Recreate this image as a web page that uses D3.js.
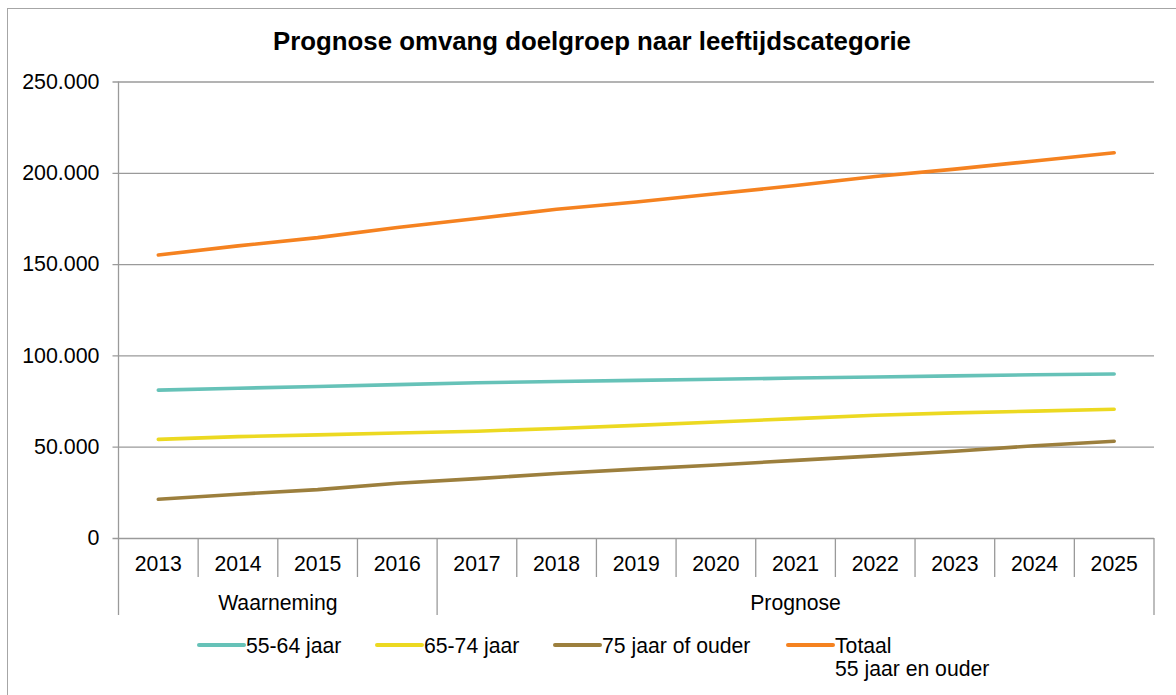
<!DOCTYPE html>
<html>
<head>
<meta charset="utf-8">
<script src="https://cdn.jsdelivr.net/npm/d3@7"></script>
<style>
  html, body { margin: 0; padding: 0; background: #fff; }
  svg { display: block; font-family: "Liberation Sans", Arial, sans-serif; }
</style>
</head>
<body>
<svg id="chart" width="1176" height="695"></svg>
<script>
// Years on the category axis
const years = ["2013","2014","2015","2016","2017","2018","2019","2020","2021","2022","2023","2024","2025"];
// Period grouping beneath the years
const periods = [
  { label: "Waarneming", from: "2013", to: "2016" },
  { label: "Prognose",   from: "2017", to: "2025" }
];
// Number of people per age category
const age5564  = [81000, 82000, 83000, 84000, 85000, 85700, 86300, 86900, 87600, 88200, 88800, 89400, 89800];
const age6574  = [54000, 55500, 56500, 57500, 58500, 60000, 61700, 63500, 65400, 67200, 68500, 69500, 70500];
const age75plus = [21200, 24000, 26500, 30000, 32500, 35300, 37700, 40000, 42500, 45000, 47500, 50500, 53000];
const total55plus = [155000, 160000, 164500, 170000, 175000, 180000, 184000, 188500, 193000, 198000, 202000, 206500, 211000];
// Value axis ticks
const yTicks = [0, 50000, 100000, 150000, 200000, 250000];

const seriesNames = ["55-64 jaar", "65-74 jaar", "75 jaar of ouder", "Totaal\n55 jaar en ouder"];
const seriesValues = [age5564, age6574, age75plus, total55plus];
const seriesColors = ["#66c2b8", "#ecd921", "#9c7f3d", "#f58220"];

const svg = d3.select("#chart");
const grid = "#9a9a9a";
const plot = { left: 118.5, right: 1154, top: 81.5, bottom: 538 };

// outer frame (right/bottom edges fall outside the view)
svg.append("rect")
  .attr("x", 7.5).attr("y", 8.5).attr("width", 1200).attr("height", 720)
  .attr("fill", "none").attr("stroke", "#a6a6a6").attr("stroke-width", 1);

const x = d3.scaleBand().domain(years).range([plot.left, plot.right]).paddingInner(0).paddingOuter(0);
const y = d3.scaleLinear().domain([0, 250000]).range([plot.bottom, plot.top]);

const fmt = v => v === 0 ? "0" : d3.format(",")(v).replace(/,/g, ".");

// title
svg.append("text")
  .attr("x", 592).attr("y", 50)
  .attr("text-anchor", "middle")
  .attr("font-size", 25.8).attr("font-weight", "bold").attr("fill", "#000")
  .text("Prognose omvang doelgroep naar leeftijdscategorie");

// horizontal gridlines + y axis
const yAxis = d3.axisLeft(y).tickValues(yTicks).tickFormat(fmt)
  .tickSize(-(plot.right - plot.left)).tickPadding(19);
const gy = svg.append("g").attr("transform", `translate(${plot.left},0)`).call(yAxis);
gy.select(".domain").remove();
gy.selectAll(".tick line").attr("stroke", grid).attr("stroke-width", 1.3).attr("x1", -6);
gy.selectAll(".tick text").attr("font-size", 21.4).attr("fill", "#000")
  .attr("font-family", "Liberation Sans, Arial, sans-serif");

// vertical value-axis line
svg.append("line").attr("x1", plot.left).attr("x2", plot.left).attr("y1", plot.top).attr("y2", plot.bottom)
  .attr("stroke", grid).attr("stroke-width", 1.3);

// category axis: year cells
const gx = svg.append("g");
const boundaries = years.map(d => x(d)).concat([plot.right]);
const groupEdges = new Set([x(periods[0].from), x(periods[1].from), plot.right]);
gx.selectAll("line.sep").data(boundaries).join("line")
  .attr("class", "sep")
  .attr("x1", d => d).attr("x2", d => d)
  .attr("y1", plot.bottom).attr("y2", d => groupEdges.has(d) ? 615 : 577)
  .attr("stroke", grid).attr("stroke-width", 1.3);
gx.selectAll("text.year").data(years).join("text")
  .attr("class", "year")
  .attr("x", d => x(d) + x.bandwidth() / 2).attr("y", 571)
  .attr("text-anchor", "middle").attr("font-size", 21.2).attr("fill", "#000")
  .text(d => d);
gx.selectAll("text.period").data(periods).join("text")
  .attr("class", "period")
  .attr("x", d => (x(d.from) + x(d.to) + x.bandwidth()) / 2).attr("y", 610)
  .attr("text-anchor", "middle").attr("font-size", 21.2).attr("fill", "#000")
  .text(d => d.label);

// data lines
const line = d3.line()
  .x((d, i) => x(years[i]) + x.bandwidth() / 2)
  .y(d => y(d));
svg.append("g").selectAll("path").data(seriesValues).join("path")
  .attr("d", d => line(d))
  .attr("fill", "none")
  .attr("stroke", (d, i) => seriesColors[i])
  .attr("stroke-width", 3.6)
  .attr("stroke-linecap", "round")
  .attr("stroke-linejoin", "round");

// legend
const legendX = [199, 377, 555, 788];
const legendY = 645;
const lg = svg.append("g");
seriesNames.forEach((name, i) => {
  lg.append("line")
    .attr("x1", legendX[i]).attr("x2", legendX[i] + 45)
    .attr("y1", legendY).attr("y2", legendY)
    .attr("stroke", seriesColors[i]).attr("stroke-width", 4)
    .attr("stroke-linecap", "round");
  const t = lg.append("text")
    .attr("x", legendX[i] + 47).attr("y", legendY + 7.5)
    .attr("font-size", 21.2).attr("fill", "#000");
  name.split("\n").forEach((part, j) => {
    t.append("tspan").attr("x", legendX[i] + 47).attr("dy", j === 0 ? 0 : 23).text(part);
  });
});
</script>
</body>
</html>
